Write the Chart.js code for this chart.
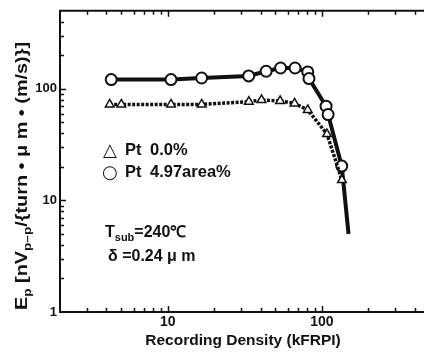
<!DOCTYPE html>
<html>
<head>
<meta charset="utf-8">
<script src="https://cdn.jsdelivr.net/npm/chart.js@4/dist/chart.umd.min.js"></script>
<style>
  html, body { margin: 0; padding: 0; background: #fff; }
  #wrap { width: 426px; height: 355px; }
</style>
</head>
<body>
<div id="wrap"><canvas id="myChart" width="426" height="355"></canvas></div>
<script>
// Pt 0.0% (triangles, dotted)
const ptFreeX = [4.2, 5.0, 10.5, 16.6, 33.6, 40.6, 53.6, 66.5, 81, 108, 135];
const ptFreeY = [72.5, 72.5, 72.5, 72.5, 76.6, 79.4, 77.8, 74, 64.7, 39.3, 15.2];
// Pt 4.97area% (circles, solid) - last point is just the end of the line
const ptAddX = [4.3, 10.5, 16.6, 33.5, 43.5, 54, 67, 81, 82.5, 106.5, 109.8, 134.6, 149];
const ptAddY = [121, 121, 125, 130.5, 143.7, 153.6, 153.6, 141.6, 123.5, 69.9, 58.8, 20.3, 5.0];
const xTickLabels = [10, 100];
const yTickLabels = [1, 10, 100];

const ink = '#111';
const ctx = document.getElementById('myChart').getContext('2d');

const toPoints = (xs, ys) => xs.map((x, i) => ({ x: x, y: ys[i] }));

// only the 1..9 x 10^n positions get a tick mark
const isNiceTick = (v) => {
  const m = v / Math.pow(10, Math.floor(Math.log10(v) + 1e-9));
  return Math.abs(m - Math.round(m)) < 1e-6;
};

const fam = '"Liberation Sans", Arial, sans-serif';

const framePlugin = {
  id: 'frame',
  beforeDatasetsDraw(chart) {
    const { ctx, chartArea: a, scales } = chart;
    ctx.save();
    ctx.strokeStyle = ink;
    ctx.lineWidth = 2;
    ctx.beginPath();
    ctx.moveTo(a.right, a.top);
    ctx.lineTo(a.left, a.top);
    ctx.lineTo(a.left, a.bottom);
    ctx.lineTo(a.right, a.bottom);
    ctx.stroke();

    ctx.lineWidth = 1.5;
    ctx.beginPath();
    scales.x.ticks.forEach(t => {
      const v = t.value;
      if (v <= scales.x.min || v >= scales.x.max || !isNiceTick(v)) return;
      const px = Math.round(scales.x.getPixelForValue(v)) + 0.5;
      const len = xTickLabels.includes(v) ? 6 : 4;
      ctx.moveTo(px, a.bottom);
      ctx.lineTo(px, a.bottom - len);
      ctx.moveTo(px, a.top);
      ctx.lineTo(px, a.top + len);
    });
    scales.y.ticks.forEach(t => {
      const v = t.value;
      if (v <= scales.y.min || v >= scales.y.max || !isNiceTick(v)) return;
      const py = Math.round(scales.y.getPixelForValue(v)) + 0.5;
      const len = yTickLabels.includes(v) ? 6 : 4;
      ctx.moveTo(a.left, py);
      ctx.lineTo(a.left + len, py);
    });
    ctx.stroke();
    ctx.restore();
  },
  afterDraw(chart) {
    const { ctx } = chart;
    ctx.save();
    ctx.fillStyle = ink;
    ctx.textBaseline = 'alphabetic';

    // y axis title with subscripts, rotated
    const parts = [
      ['E', false], ['p', true], [' [nV', false], ['p\u2013p', true],
      ['/{turn \u2022 \u03bc m \u2022 (m/s)}]', false]
    ];
    const bigFont = 'bold 16px ' + fam;
    const subFont = 'bold 11px ' + fam;
    let total = 0;
    parts.forEach(p => { ctx.font = p[1] ? subFont : bigFont; total += ctx.measureText(p[0]).width; });
    ctx.translate(27, 176);
    ctx.rotate(-Math.PI / 2);
    ctx.scale(268 / total, 1);
    let cx = -total / 2;
    parts.forEach(p => {
      ctx.font = p[1] ? subFont : bigFont;
      ctx.fillText(p[0], cx, p[1] ? 4 : 0);
      cx += ctx.measureText(p[0]).width;
    });
    ctx.setTransform(1, 0, 0, 1, 0, 0);

    // x axis title
    ctx.font = 'bold 15.5px ' + fam;
    ctx.textAlign = 'center';
    ctx.fillText('Recording Density (kFRPI)', 243, 345);

    // legend-like labels
    ctx.textAlign = 'left';
    ctx.font = '18px "DejaVu Sans", sans-serif';
    ctx.fillText('\u25b3', 103, 156);
    ctx.fillText('\u25cb', 102, 178);
    ctx.font = 'bold 16.5px ' + fam;
    ctx.fillText('Pt', 125, 155);
    ctx.fillText('0.0%', 150, 155);
    ctx.fillText('Pt', 125, 177);
    ctx.fillText('4.97area%', 150, 177);

    // conditions
    ctx.font = bigFont;
    ctx.fillText('T', 105, 237);
    let w = ctx.measureText('T').width;
    ctx.font = subFont;
    ctx.fillText('sub', 105 + w, 241);
    w += ctx.measureText('sub').width;
    ctx.font = bigFont;
    ctx.fillText('=240\u2103', 105 + w, 237);
    ctx.fillText('\u03b4 =0.24 \u03bc m', 108, 261);
    ctx.restore();
  }
};

const myChart = new Chart(ctx, {
  type: 'line',
  data: {
    datasets: [
      {
        label: 'Pt 0.0%',
        data: toPoints(ptFreeX, ptFreeY),
        borderColor: ink,
        borderWidth: 3.5,
        borderDash: [3, 1.5],
        pointStyle: 'triangle',
        pointRadius: 5,
        pointBorderWidth: 1.5,
        pointBackgroundColor: '#fff',
        pointBorderColor: ink,
        tension: 0
      },
      {
        label: 'Pt 4.97area%',
        data: toPoints(ptAddX, ptAddY),
        borderColor: ink,
        borderWidth: 4,
        pointStyle: 'circle',
        pointRadius: ptAddX.map((x, i) => i === ptAddX.length - 1 ? 0 : 5.5),
        pointBorderWidth: 2,
        pointBackgroundColor: '#fff',
        pointBorderColor: ink,
        tension: 0
      }
    ]
  },
  options: {
    responsive: false,
    animation: false,
    events: [],
    layout: { autoPadding: false, padding: { top: 9, right: 0, left: 0, bottom: 0 } },
    plugins: { legend: { display: false }, tooltip: { enabled: false } },
    scales: {
      x: {
        type: 'logarithmic',
        min: 2,
        max: 460,
        grid: { display: false, drawTicks: false, tickLength: 0 },
        border: { display: false },
        ticks: {
          autoSkip: false,
          maxRotation: 0,
          padding: 2,
          color: ink,
          font: { family: fam, size: 14, weight: 'bold' },
          callback: (v) => xTickLabels.includes(v) ? String(v) : ''
        },
        afterFit: (s) => { s.height = 43; }
      },
      y: {
        type: 'logarithmic',
        min: 1,
        max: 500,
        grid: { display: false, drawTicks: false, tickLength: 0 },
        border: { display: false },
        ticks: {
          autoSkip: false,
          padding: 3,
          color: ink,
          font: { family: fam, size: 13, weight: 'bold' },
          callback: (v) => yTickLabels.includes(v) ? String(v) : ''
        },
        afterFit: (s) => { s.width = 60; }
      }
    }
  },
  plugins: [framePlugin]
});
</script>
</body>
</html>
